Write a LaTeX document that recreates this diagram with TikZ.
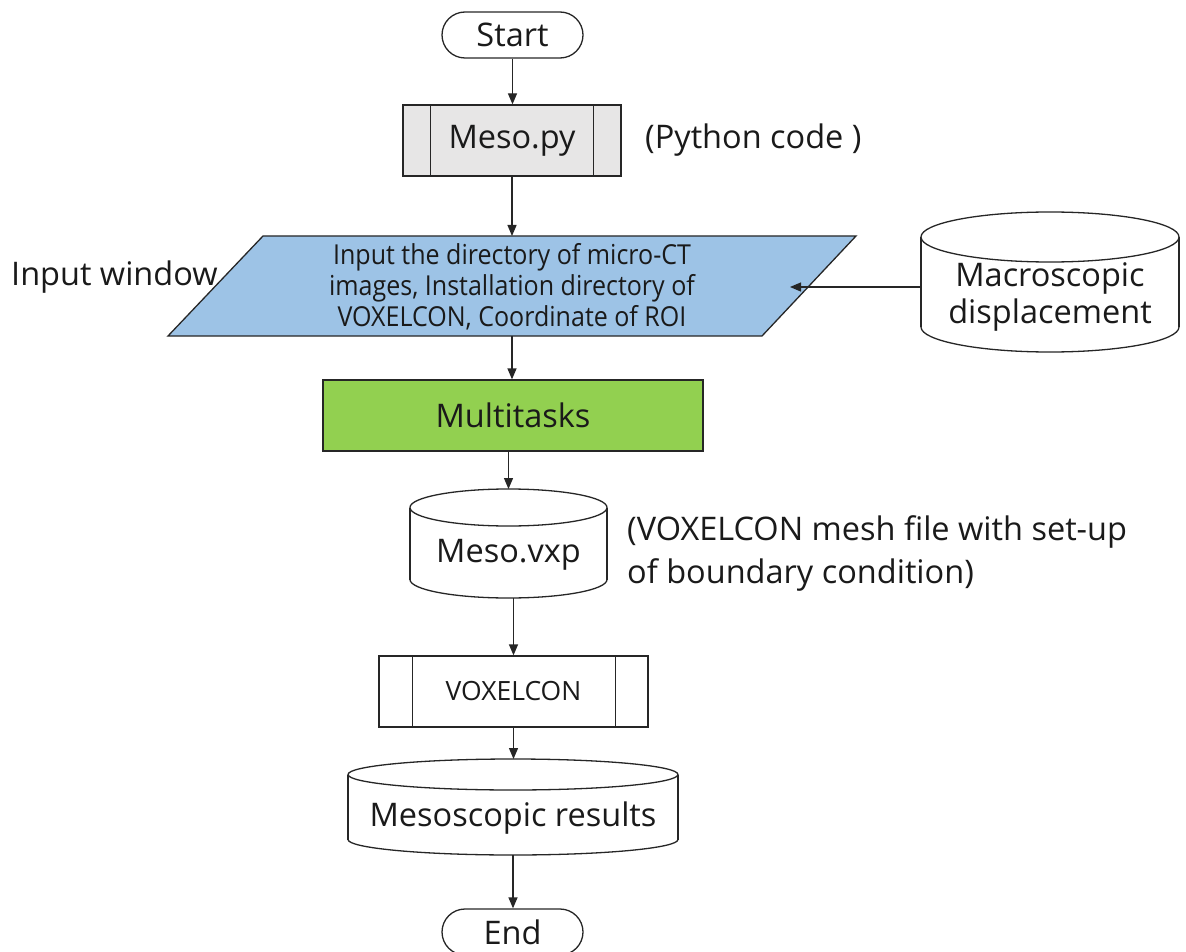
\documentclass[tikz,border=0pt]{standalone}
\usepackage{fontspec}
\setmainfont{Open Sans}
\newfontfamily\narrowfont[FakeStretch=0.91]{Open Sans}
\usetikzlibrary{arrows.meta}
\definecolor{linec}{HTML}{262626}
\definecolor{textc}{HTML}{1A1A1A}
\definecolor{grayf}{HTML}{E7E6E6}
\definecolor{bluef}{HTML}{9DC3E6}
\definecolor{greenf}{HTML}{92D050}
\newcommand\mainsz{\fontsize{32.5}{37}\selectfont}
\newcommand\notesz{\fontsize{32.5}{43}\selectfont}
\newcommand\parasz{\fontsize{27.5}{31}\selectfont}
\newcommand\smallsz{\fontsize{26.5}{31}\selectfont}
% cylinder: name, L, R, yT, yB, ry
\newcommand\mycyl[6]{%
  \draw[cylline] ({(#2+#3)/2},#5) ellipse [x radius={(#3-#2)/2}, y radius=#6];
  \fill[white] (#2,#4) rectangle (#3,#5);
  \draw[cylline] (#2,#4) -- (#2,#5) (#3,#4) -- (#3,#5);
  \draw[cylline] ({(#2+#3)/2},#4) ellipse [x radius={(#3-#2)/2}, y radius=#6];
  \coordinate (#1-top) at ({(#2+#3)/2},{#4-#6});
  \coordinate (#1-bot) at ({(#2+#3)/2},{#5+#6});
}
\begin{document}
\begin{tikzpicture}[x=1pt,y=-1pt,
  term/.style={draw=linec, line width=1.3pt, rounded corners=23pt, minimum width=141pt, minimum height=46pt, inner sep=0pt, font=\mainsz, text=textc},
  procbox/.style={draw=linec, line width=1.3pt, rectangle, inner sep=0pt, text=textc},
  cylline/.style={draw=linec, line width=1.3pt, fill=white},
  txt/.style={font=\mainsz, text=textc, inner sep=0pt},
  arr/.style={draw=linec, line width=1.3pt, -{Triangle[length=11pt,width=9pt]}}
]
\useasboundingbox (0,0) rectangle (1186,952);

% Start
\node[term] (start) at (512.5,35) {Start};

% Meso.py
\node[procbox, fill=grayf, minimum width=218pt, minimum height=71pt, font=\mainsz] (mesopy) at (512,140.5) {Meso.py};
\draw[linec, line width=1.3pt] ([xshift=28pt]mesopy.north west) -- ([xshift=28pt]mesopy.south west)
  ([xshift=-28pt]mesopy.north east) -- ([xshift=-28pt]mesopy.south east);
\node[txt, anchor=west] (pycode) at (645,140) {(Python code )};

% Input parallelogram
\draw[linec, line width=1.3pt, fill=bluef] (263,236) -- (856,236) -- (762,336) -- (168,336) -- cycle;
\coordinate (para-top) at (512,236);
\coordinate (para-bot) at (512,336);
\coordinate (para-pin) at (790,287);
\node[font=\parasz\narrowfont, text=textc, align=center, inner sep=0pt] (para) at (512,287)
  {Input the directory of micro-CT\\images, Installation directory of\\VOXELCON, Coordinate of ROI};
\node[txt, anchor=west] (inwin) at (11,277) {Input window};

% Macroscopic displacement
\mycyl{macro}{921}{1179}{237}{327}{25}
\coordinate (macro-left) at (921,287);
\node[txt, align=center] (macrot) at (1050,297) {Macroscopic\\displacement};

% Multitasks
\node[procbox, fill=greenf, minimum width=380pt, minimum height=71pt, font=\mainsz] (multi) at (513,415.5) {Multitasks};

% Meso.vxp
\mycyl{vxp}{410}{607}{507.5}{579.5}{18.5}
\node[txt] (vxpt) at (508.5,555) {Meso.vxp};
\node[txt, anchor=west, align=left, font=\notesz] (vxpnote) at (627,553.5)
  {(VOXELCON mesh file with set-up\\of boundary condition)};

% VOXELCON
\node[procbox, minimum width=269pt, minimum height=71pt, font=\smallsz] (voxel) at (513.5,691.5) {VOXELCON};
\draw[linec, line width=1.3pt] ([xshift=34pt]voxel.north west) -- ([xshift=34pt]voxel.south west)
  ([xshift=-33pt]voxel.north east) -- ([xshift=-33pt]voxel.south east);

% Mesoscopic results
\mycyl{res}{348}{678}{774.5}{839.5}{15.5}
\node[txt] (rest) at (513,818) {Mesoscopic results};

% End
\node[term] (endn) at (512.5,932) {End};

% Connectors
\draw[arr] (start.south) -- (start.south |- mesopy.north);
\draw[arr] (mesopy.south) -- (mesopy.south |- para-top);
\draw[arr] (macro-left) -- (para-pin);
\draw[arr] (para-bot) -- (para-bot |- multi.north);
\draw[arr] (vxp-top |- multi.south) -- (vxp-top);
\draw[arr] (vxp-bot -| voxel.north) -- (voxel.north);
\draw[arr] (voxel.south) -- (voxel.south |- res-top);
\draw[arr] (res-bot) -- (res-bot |- endn.north);
\end{tikzpicture}
\end{document}
